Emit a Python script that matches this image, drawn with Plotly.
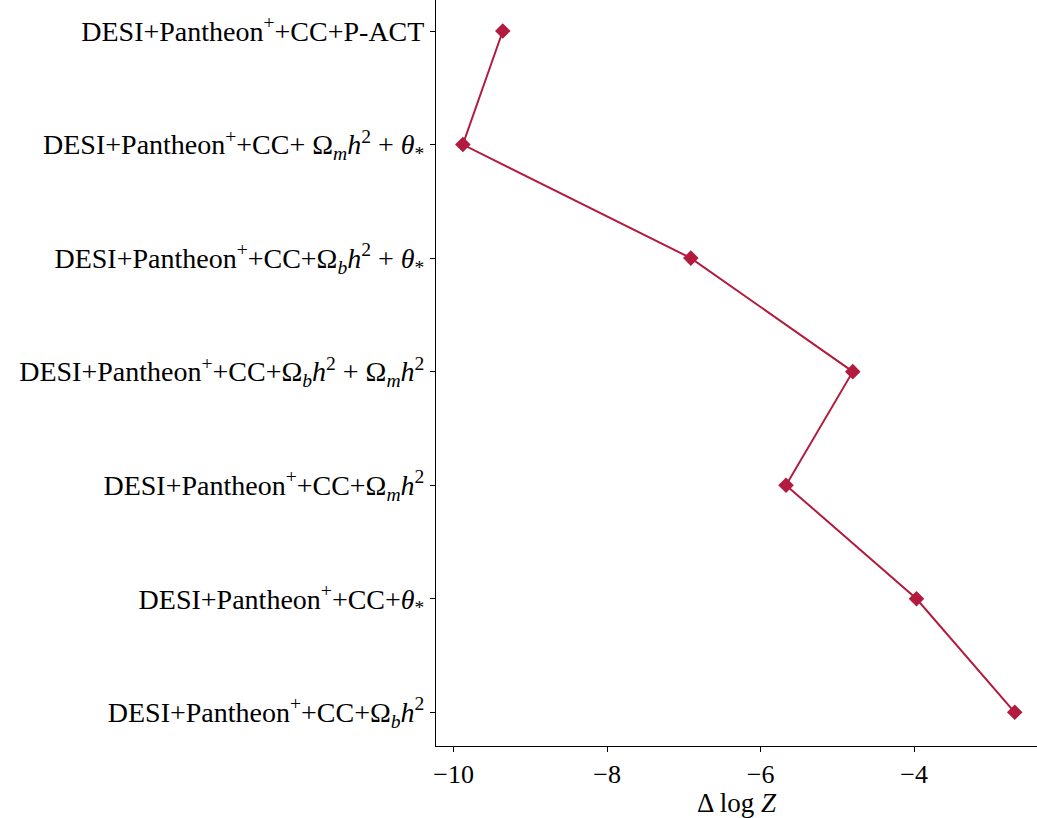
import plotly.graph_objects as go

# Dataset combinations (bottom to top) and their Bayesian evidence differences
labels = [
    "DESI+Pantheon<sup>+</sup>+CC+Ω<sub><i>b</i></sub><i>h</i><sup>2</sup>",
    "DESI+Pantheon<sup>+</sup>+CC+<i>θ</i><sub>*</sub>",
    "DESI+Pantheon<sup>+</sup>+CC+Ω<sub><i>m</i></sub><i>h</i><sup>2</sup>",
    "DESI+Pantheon<sup>+</sup>+CC+Ω<sub><i>b</i></sub><i>h</i><sup>2</sup> + Ω<sub><i>m</i></sub><i>h</i><sup>2</sup>",
    "DESI+Pantheon<sup>+</sup>+CC+Ω<sub><i>b</i></sub><i>h</i><sup>2</sup> + <i>θ</i><sub>*</sub>",
    "DESI+Pantheon<sup>+</sup>+CC+ Ω<sub><i>m</i></sub><i>h</i><sup>2</sup> + <i>θ</i><sub>*</sub>",
    "DESI+Pantheon<sup>+</sup>+CC+P-ACT",
]
delta_logz = [-2.69, -3.97, -5.67, -4.80, -6.91, -9.88, -9.36]

positions = list(range(len(labels)))
x_ticks = [-10, -8, -6, -4]
x_tick_text = ["−10", "−8", "−6", "−4"]

color = "rgb(178,27,61)"
font_family = "Liberation Serif, DejaVu Serif, serif"

fig = go.Figure(
    go.Scatter(
        x=delta_logz,
        y=positions,
        mode="lines+markers",
        line=dict(color=color, width=2),
        marker=dict(symbol="diamond", size=12, color=color),
        showlegend=False,
    )
)

fig.update_layout(
    width=1037,
    height=818,
    margin=dict(l=436, r=0, t=0, b=72),
    paper_bgcolor="white",
    plot_bgcolor="white",
    font=dict(family=font_family, size=28, color="black"),
)

fig.update_xaxes(
    range=[-10.23, -2.40],
    tickvals=x_ticks,
    ticktext=x_tick_text,
    ticks="outside",
    ticklen=5,
    tickwidth=1,
    tickcolor="black",
    showline=True,
    linecolor="black",
    linewidth=1,
    showgrid=False,
    zeroline=False,
    tickfont=dict(size=26),
    title=dict(text="Δ log <i>Z</i>", font=dict(size=27), standoff=4),
)

fig.update_yaxes(
    range=[-0.297, 6.273],
    tickvals=positions,
    ticktext=labels,
    ticks="outside",
    ticklen=5,
    tickwidth=1,
    tickcolor="black",
    showline=True,
    linecolor="black",
    linewidth=1,
    showgrid=False,
    zeroline=False,
    tickfont=dict(size=28),
)

fig.write_html("out.html")
